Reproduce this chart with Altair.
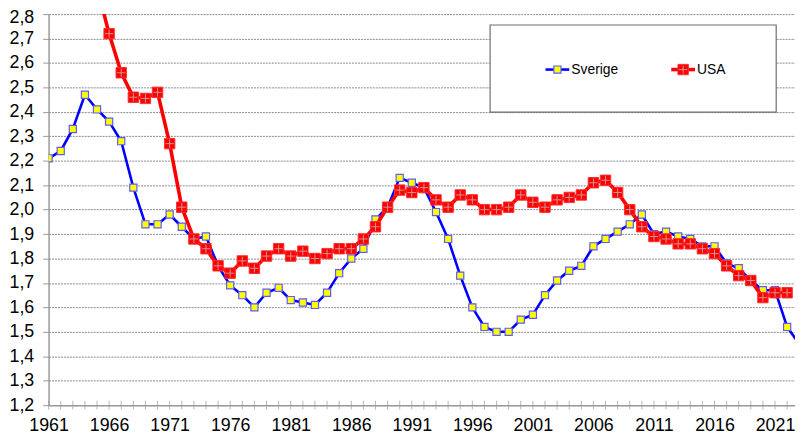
import altair as alt
import pandas as pd

# ---- data ----
years_se = list(range(1961, 2024))
sverige = [2.21, 2.24, 2.33, 2.47, 2.41, 2.36, 2.28, 2.09, 1.94, 1.94,
           1.98, 1.93, 1.88, 1.89, 1.77, 1.69, 1.65, 1.60, 1.66, 1.68,
           1.63, 1.62, 1.61, 1.66, 1.74, 1.80, 1.84, 1.96, 2.01, 2.13,
           2.11, 2.09, 1.99, 1.88, 1.73, 1.60, 1.52, 1.50, 1.50, 1.55,
           1.57, 1.65, 1.71, 1.75, 1.77, 1.85, 1.88, 1.91, 1.94, 1.98,
           1.90, 1.91, 1.89, 1.88, 1.85, 1.85, 1.78, 1.76, 1.71, 1.67,
           1.67, 1.52, 1.45]
years_us = list(range(1961, 2023))
usa = [3.62, 3.46, 3.32, 3.19, 2.91, 2.72, 2.56, 2.46, 2.455, 2.48,
       2.27, 2.01, 1.88, 1.84, 1.77, 1.74, 1.79, 1.76, 1.81, 1.84,
       1.81, 1.83, 1.80, 1.82, 1.84, 1.84, 1.88, 1.93, 2.01, 2.08,
       2.07, 2.09, 2.04, 2.01, 2.06, 2.04, 2.00, 2.00, 2.01, 2.06,
       2.03, 2.01, 2.04, 2.05, 2.06, 2.11, 2.12, 2.07, 2.00, 1.93,
       1.89, 1.88, 1.86, 1.86, 1.84, 1.82, 1.77, 1.73, 1.71, 1.64,
       1.66, 1.66]
x_labels = list(range(1961, 2022, 5))
tick_years = list(range(1961, 2023))
y_ticks = [round(1.2 + 0.1 * i, 1) for i in range(17)]
series_names = ["Sverige", "USA"]

se = pd.DataFrame({"year": years_se, "tfr": sverige})
us = pd.DataFrame({"year": years_us, "tfr": usa})
tk = pd.DataFrame({"year": tick_years, "tfr": [1.2] * len(tick_years)})

W, H = 754, 395
FONT = "Liberation Sans"
xscale = alt.Scale(domain=[1961, 2022.65], nice=False, zero=False)
yscale = alt.Scale(domain=[1.2, 2.8], nice=False, zero=False)

xaxis = alt.Axis(values=x_labels, format="d", ticks=False, grid=False,
                 domainColor="#9a9a9a", domainWidth=1.5, labelFontSize=18,
                 labelFont=FONT, labelColor="#000", labelPadding=12,
                 labelFlush=False, title=None)
yaxis = alt.Axis(values=y_ticks,
                 labelExpr="replace(format(datum.value, '.1f'), '.', ',')",
                 labelOffset={"condition": {"test": "datum.value > 2.75", "value": 3}, "value": 0},
                 grid=True, gridColor="#8a8a8a", gridDash=[2, 1], gridWidth=1,
                 tickSize=6, tickColor="#9a9a9a", domainColor="#9a9a9a",
                 domainWidth=1.5, labelFontSize=18, labelFont=FONT,
                 labelColor="#000", labelPadding=9, title=None)


def X():
    return alt.X("year:Q", scale=xscale, axis=xaxis)


def Y():
    return alt.Y("tfr:Q", scale=yscale, axis=yaxis)


ticks = alt.Chart(tk).mark_tick(
    orient="vertical", size=9, thickness=1, color="#9a9a9a"
).encode(x=X(), y=Y())

se_line = alt.Chart(se).mark_line(color="#0000ff", strokeWidth=2.6, clip=True).encode(x=X(), y=Y())
se_pts = alt.Chart(se).mark_point(shape="square", filled=True, fill="#ffff00", stroke="#5b5bff",
                                  strokeWidth=1.2, size=52, opacity=1, clip=True).encode(x=X(), y=Y())

us_line = alt.Chart(us).mark_line(color="#ff0000", strokeWidth=3.6, clip=True).encode(x=X(), y=Y())
us_pts = alt.Chart(us).mark_point(shape="square", filled=True, fill="#ff0000", stroke="#ff3030",
                                  strokeWidth=1, size=110, opacity=1, clip=True).encode(x=X(), y=Y())
us_plus = alt.Chart(us).mark_point(shape="M-0.8,0H0.8M0,-0.8V0.8", filled=False, stroke="#c89898",
                                   strokeWidth=1, size=110, opacity=1, clip=True).encode(x=X(), y=Y())

# ---- legend (drawn manually, Excel style) ----
one = pd.DataFrame({"a": [0]})
leg_box = alt.Chart(one).mark_rect(fill="white", stroke="#6e6e6e", strokeWidth=1.2).encode(
    x=alt.value(446), x2=alt.value(735), y=alt.value(11), y2=alt.value(99))
leg_se_line = alt.Chart(one).mark_rule(color="#0000ff", strokeWidth=2.6).encode(
    x=alt.value(502), x2=alt.value(526), y=alt.value(56))
leg_se_pt = alt.Chart(one).mark_point(shape="square", filled=True, fill="#ffff00", stroke="#5b5bff",
                                      strokeWidth=1.2, size=52, opacity=1).encode(
    x=alt.value(514), y=alt.value(56))
leg_us_line = alt.Chart(one).mark_rule(color="#ff0000", strokeWidth=3.6).encode(
    x=alt.value(629), x2=alt.value(653), y=alt.value(56))
leg_us_pt = alt.Chart(one).mark_point(shape="square", filled=True, fill="#ff0000", stroke="#ff3030",
                                      strokeWidth=1, size=110, opacity=1).encode(
    x=alt.value(641), y=alt.value(56))
leg_us_plus = alt.Chart(one).mark_point(shape="M-0.8,0H0.8M0,-0.8V0.8", filled=False, stroke="#c89898",
                                        strokeWidth=1, size=110, opacity=1).encode(
    x=alt.value(641), y=alt.value(56))
leg_se_txt = alt.Chart(one).mark_text(align="left", baseline="middle", fontSize=14, font=FONT,
                                      color="#000").encode(
    x=alt.value(528), y=alt.value(56), text=alt.value(series_names[0]))
leg_us_txt = alt.Chart(one).mark_text(align="left", baseline="middle", fontSize=14, font=FONT,
                                      color="#000").encode(
    x=alt.value(655), y=alt.value(56), text=alt.value(series_names[1]))

chart = alt.layer(
    ticks, se_line, se_pts, us_line, us_pts, us_plus,
    leg_box, leg_se_line, leg_se_pt, leg_us_line, leg_us_pt, leg_us_plus,
    leg_se_txt, leg_us_txt
).properties(
    width=W, height=H,
    autosize=alt.AutoSizeParams(type="none"),
    padding={"left": 41, "top": 4, "right": 0, "bottom": 30},
    background="white",
).configure_view(stroke=None)

chart.save("out.html", embed_options={"renderer": "svg", "actions": False})
